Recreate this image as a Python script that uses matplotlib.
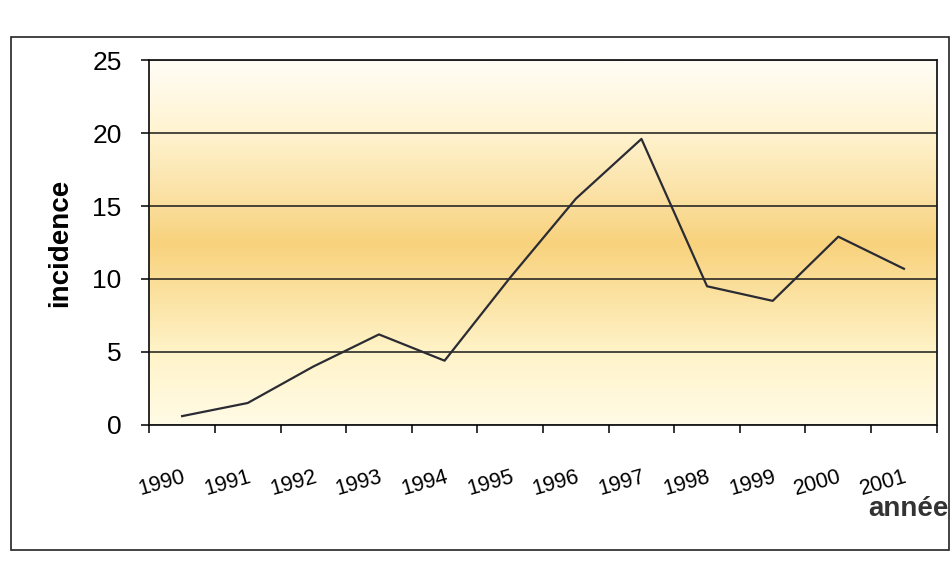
import numpy as np
import matplotlib
matplotlib.use("Agg")
import matplotlib.pyplot as plt
from matplotlib.colors import LinearSegmentedColormap
from matplotlib.patches import Rectangle

years = ["1990", "1991", "1992", "1993", "1994", "1995", "1996",
         "1997", "1998", "1999", "2000", "2001"]
incidence = [0.6, 1.5, 4.0, 6.2, 4.4, 10.1, 15.5, 19.6, 9.5, 8.5, 12.9, 10.7]
yticks = [0, 5, 10, 15, 20, 25]

plt.rcParams['font.family'] = ['Liberation Sans', 'DejaVu Sans']

fig = plt.figure(figsize=(9.51, 5.62), dpi=100)
ax = fig.add_axes([0.157, 0.244, 0.828, 0.649])

# background gradient (bottom -> top)
cmap = LinearSegmentedColormap.from_list(
    "bg",
    [(0.0, "#fffbe6"), (0.2, "#fff3c8"), (0.5, "#f8d27c"),
     (0.62, "#fbe0a2"), (0.8, "#fff3cf"), (1.0, "#fffdf6")])
grad = np.linspace(0, 1, 256).reshape(-1, 1)
ax.imshow(grad, aspect="auto", cmap=cmap, origin="lower",
          extent=[0, 1, 0, 1], transform=ax.transAxes, zorder=0)

x = np.arange(len(years))
ax.plot(x, incidence, color="#2b2b33", lw=1.6, zorder=3)

ax.set_xlim(-0.5, len(years) - 0.5)
ax.set_ylim(0, 25)
ax.set_yticks(yticks)
ax.set_yticklabels([str(v) for v in yticks], fontsize=19)
ax.yaxis.grid(True, color="#1a1a1a", lw=1.1, zorder=1)
ax.set_axisbelow(False)

ax.set_xticks(np.arange(len(years) + 1) - 0.5)
ax.set_xticklabels([])
ax.set_xticks(x, minor=True)
ax.set_xticklabels(years, minor=True, fontsize=15.5, rotation=16,
                   ha="right", va="top", rotation_mode="anchor")
ax.tick_params(axis="x", which="minor", length=0, pad=30)
ax.tick_params(axis="x", which="major", length=6, width=1.1, direction="out")
ax.tick_params(axis="y", length=6, width=1.1, direction="out", pad=14)

for s in ax.spines.values():
    s.set_color("#1a1a1a")
    s.set_linewidth(1.3)

ax.set_ylabel("incidence", fontsize=20, fontweight="bold", labelpad=14)
fig.text(0.997, 0.094, "année", fontsize=20, fontweight="bold",
         ha="right", va="center", color="#333333")

fig.patches.append(Rectangle((0.012, 0.022), 0.986, 0.913,
                             transform=fig.transFigure, fill=False,
                             edgecolor="#222222", lw=1.2))

fig.savefig("out.png", dpi=100)
